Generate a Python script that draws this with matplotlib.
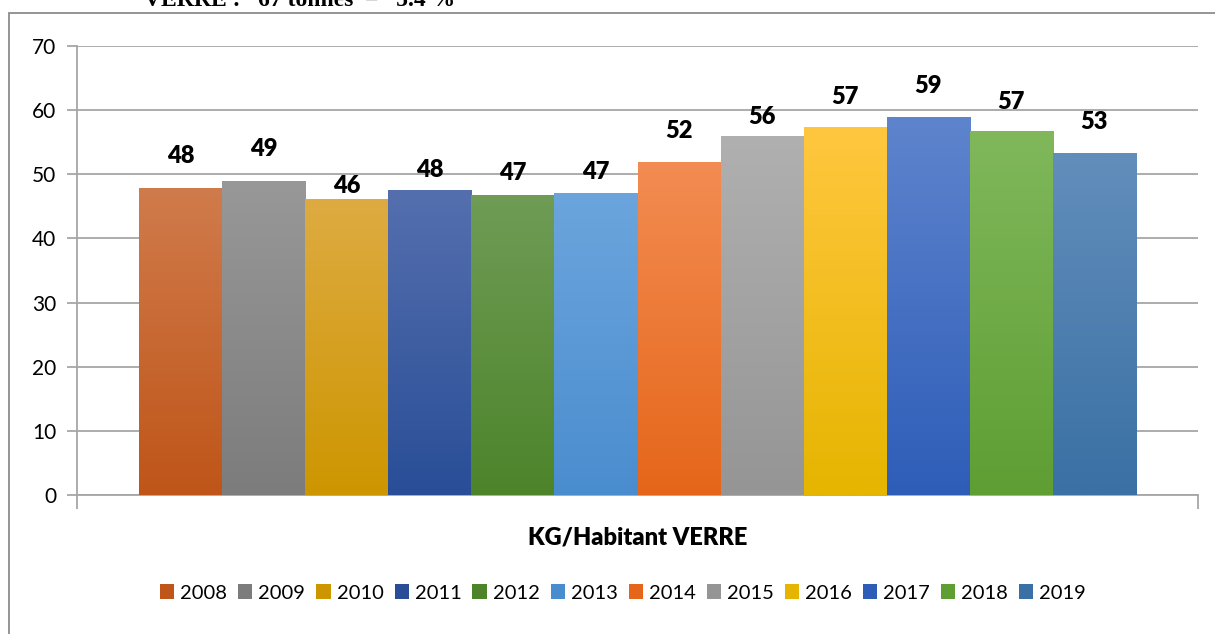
import matplotlib
matplotlib.use("Agg")
import matplotlib.pyplot as plt
from matplotlib.patches import Rectangle
import matplotlib.colors as mcolors
import numpy as np

# donnees
annees = ["2008", "2009", "2010", "2011", "2012", "2013",
          "2014", "2015", "2016", "2017", "2018", "2019"]
kg_hab = [47.8, 49.0, 46.1, 47.6, 46.7, 47.1, 51.9, 55.9, 57.3, 58.9, 56.8, 53.3]
etiquettes = ["48", "49", "46", "48", "47", "47", "52", "56", "57", "59", "57", "53"]
categorie = "KG/Habitant VERRE"
titre_haut = "VERRE :   67 tonnes  =   5.4 %"

# couleurs (haut, bas) du degrade de chaque barre
couleurs_haut = ["#D07B4C", "#989898", "#DEAB42", "#556FAE", "#6F9C56", "#6CA5DD",
                 "#F38C52", "#B0B0B0", "#FFC73F", "#5E84CD", "#80B85B", "#628EBB"]
couleurs_bas = ["#BF5518", "#7C7C7C", "#CD9600", "#294E97", "#4D842A", "#4A8DCF",
                "#E5661A", "#959595", "#E5B500", "#2E5DB8", "#5E9E33", "#3A70A4"]
# decalage des etiquettes au-dessus des barres (unites de l'axe)
decal_etiq = [5.0, 4.9, 2.1, 3.1, 3.5, 3.2, 4.8, 3.1, 4.8, 4.9, 4.5, 4.9]

police = "Lato"
gris = "#A6A6A6"

fig = plt.figure(figsize=(12.15, 6.34), dpi=100)
ax = fig.add_axes([77 / 1215, 1 - 495 / 634, 1121 / 1215, 449 / 634])

n = len(annees)
gap = 1.5
w = 1.0 / (n + gap)
xs = [(i - (n - 1) / 2) * w for i in range(n)]

bars = []
for i in range(n):
    b = ax.bar(xs[i], kg_hab[i], width=w, color=couleurs_bas[i], label=annees[i],
               zorder=3, linewidth=0)
    bars.append(b[0])

# degrade vertical dans chaque barre
for i, p in enumerate(bars):
    x0, y0 = p.get_x(), p.get_y()
    x1, y1 = x0 + p.get_width(), y0 + p.get_height()
    cmap = mcolors.LinearSegmentedColormap.from_list(
        "g%d" % i, [couleurs_bas[i], couleurs_haut[i]])
    grad = np.linspace(0, 1, 256).reshape(-1, 1)
    im = ax.imshow(grad, cmap=cmap, extent=[x0, x1, y0, y1], origin="lower",
                   aspect="auto", zorder=4)
    im.set_clip_path(p)
    ax.text(xs[i], kg_hab[i] + decal_etiq[i], etiquettes[i], ha="center", va="center",
            fontsize=17, fontweight="heavy", family=police, color="#000000", zorder=6)

ax.set_xlim(-0.5, 0.5)
ax.set_ylim(0, 70)
ax.set_yticks(range(0, 71, 10))
ax.yaxis.grid(True, color=gris, linewidth=1.3, zorder=0)
ax.set_axisbelow(True)
ax.set_xticks([-0.5, 0.5])
ax.set_xticklabels(["", ""])
ax.tick_params(axis="x", length=10, color=gris, width=1.3, direction="out")
ax.tick_params(axis="y", length=7, color=gris, width=1.3, direction="out",
               labelsize=15, labelcolor="#000000", pad=8)
for lab in ax.get_yticklabels():
    lab.set_family(police)
for s in ["top", "right"]:
    ax.spines[s].set_visible(False)
for s in ["left", "bottom"]:
    ax.spines[s].set_color(gris)
    ax.spines[s].set_linewidth(1.3)

fig.text((77 + 1198) / 2 / 1215, 1 - 537 / 634, categorie, ha="center", va="center",
         fontsize=17, fontweight="heavy", family=police, color="#000000")

leg = fig.legend(handles=bars, labels=annees, loc="center",
                 bbox_to_anchor=(623 / 1215, 1 - 593 / 634), ncol=n, frameon=False,
                 handlelength=0.7, handleheight=0.7, handletextpad=0.3,
                 columnspacing=0.55, prop={"family": police, "size": 14.5})

# cadre exterieur et titre coupe
fig.patches.append(Rectangle((9 / 1215, -0.05), 1.2, 1.05 - 13 / 634,
                             transform=fig.transFigure, fill=False,
                             edgecolor="#8C8C8C", linewidth=1.3))
fig.text(300 / 1215, 1 - 6 / 634, titre_haut, ha="center", va="baseline",
         fontsize=17, fontweight="bold", family="Liberation Serif", color="#000000")

fig.savefig("out.png", dpi=100)
